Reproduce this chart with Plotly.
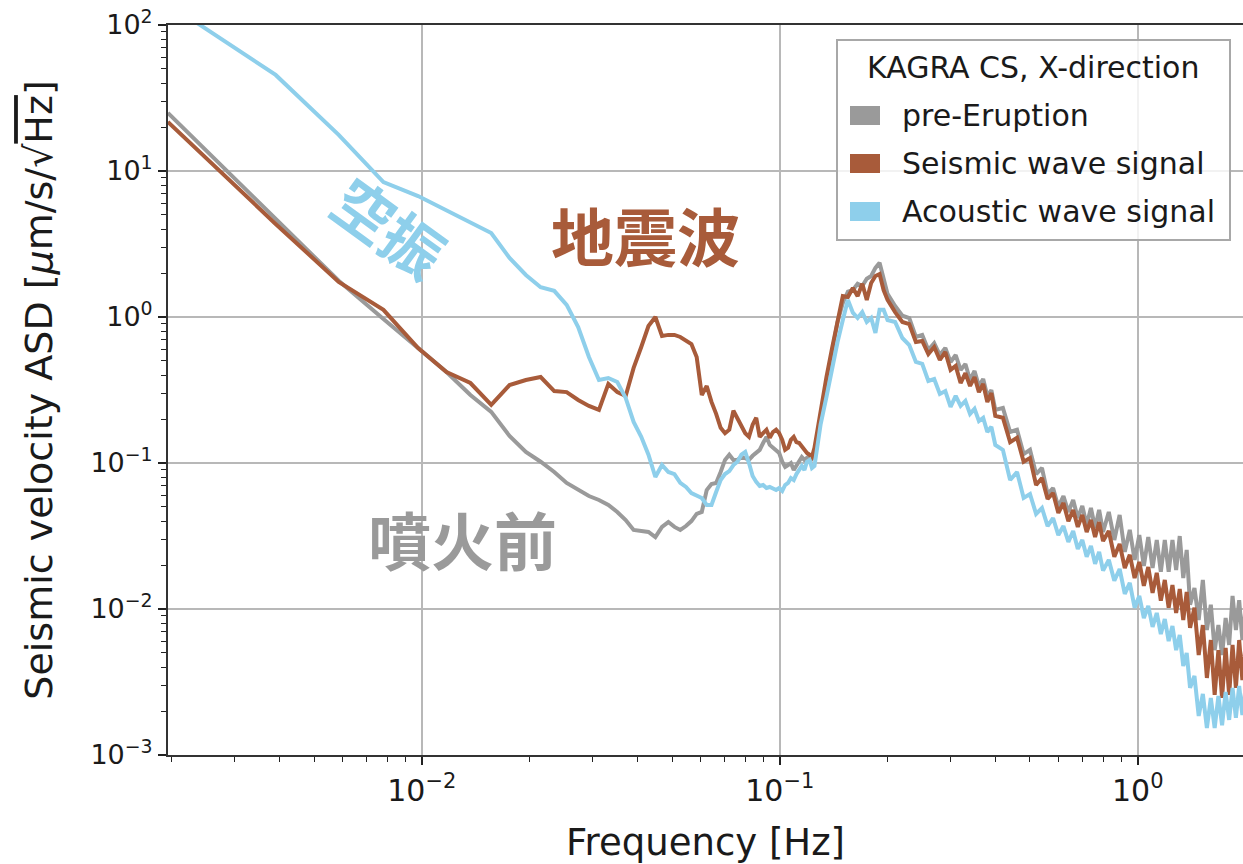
import plotly.graph_objects as go

# ---------------- data ----------------
FREQ = [
    0.001953, 0.003906, 0.005859, 0.007813, 0.009766, 0.01172, 0.01367, 0.01563, 0.01758, 0.01953,
    0.02148, 0.02344, 0.02539, 0.02734, 0.0293, 0.03125, 0.0332, 0.03516, 0.03711, 0.03906,
    0.04102, 0.04297, 0.04492, 0.04688, 0.04883, 0.05078, 0.05273, 0.05469, 0.05664, 0.05859,
    0.06055, 0.0625, 0.06445, 0.06641, 0.06836, 0.07031, 0.07227, 0.07422, 0.07617, 0.07813,
    0.08008, 0.08203, 0.08398, 0.08594, 0.08789, 0.08984, 0.0918, 0.09375, 0.0957, 0.09766,
    0.09961, 0.1016, 0.1035, 0.1055, 0.1074, 0.1094, 0.1113, 0.1133, 0.1152, 0.1172,
    0.1191, 0.1211, 0.123, 0.125,
    0.13, 0.135, 0.14, 0.145, 0.15, 0.155, 0.16, 0.165, 0.17, 0.175,
    0.18, 0.185, 0.19, 0.195, 0.2, 0.21, 0.22, 0.23, 0.24, 0.25,
    0.26, 0.27, 0.28, 0.29, 0.3, 0.31, 0.32, 0.33, 0.34, 0.35,
    0.36, 0.37, 0.38, 0.39, 0.4, 0.42, 0.44, 0.46, 0.48, 0.5,
    0.52, 0.54, 0.56, 0.58, 0.6, 0.62, 0.64, 0.66, 0.68, 0.7,
    0.72, 0.74, 0.76, 0.78, 0.8, 0.83, 0.86, 0.89, 0.92, 0.95,
    0.98, 1.01, 1.04, 1.07, 1.1, 1.13, 1.16, 1.19, 1.22, 1.25,
    1.28, 1.31, 1.34, 1.37, 1.4, 1.44, 1.48, 1.52, 1.56, 1.6,
    1.64, 1.68, 1.72, 1.76, 1.8, 1.84, 1.88, 1.92, 1.96, 2.0,
]

PRE_ERUPTION = [
    25.0, 4.69, 1.77, 0.969, 0.613, 0.420, 0.292, 0.224, 0.153, 0.119,
    0.102, 0.0868, 0.073, 0.0653, 0.0594, 0.0558, 0.0516, 0.0462, 0.0407, 0.0348,
    0.0342, 0.0337, 0.0311, 0.0365, 0.0394, 0.0365, 0.0348, 0.0370, 0.0400, 0.0448,
    0.0462, 0.0653, 0.0718, 0.073, 0.0868, 0.105, 0.114, 0.105, 0.105, 0.110,
    0.108, 0.105, 0.112, 0.117, 0.123, 0.137, 0.151, 0.133, 0.127, 0.123,
    0.117, 0.102, 0.0939, 0.0969, 0.1, 0.0895, 0.0969, 0.105, 0.110, 0.105,
    0.108, 0.112, 0.107, 0.114,
    0.197, 0.359, 0.576, 0.924, 1.25, 1.49, 1.53, 1.69, 1.63, 1.83,
    1.91, 2.17, 2.35, 1.80, 1.44, 1.19, 1.02, 0.984, 0.730, 0.754,
    0.594, 0.663, 0.549, 0.613, 0.492, 0.549, 0.434, 0.477, 0.370, 0.427,
    0.337, 0.376, 0.288, 0.316, 0.231, 0.238, 0.163, 0.169, 0.115, 0.123,
    0.084, 0.0924, 0.0613, 0.0674, 0.050, 0.0594, 0.0462, 0.0558, 0.042, 0.0508,
    0.0376, 0.0492, 0.0359, 0.0477, 0.0337, 0.0462, 0.0297, 0.0441, 0.0246, 0.0348,
    0.0217, 0.0321, 0.0197, 0.0311, 0.0191, 0.0297, 0.0180, 0.0297, 0.0180, 0.0297,
    0.0185, 0.0316, 0.0163, 0.0254, 0.0107, 0.0139, 0.0084, 0.0158, 0.00718, 0.0107,
    0.00523, 0.00776, 0.00484, 0.00868, 0.00567, 0.0123, 0.00718, 0.0115, 0.00613, 0.0102,
]

SEISMIC_WAVE = [
    21.7, 4.34, 1.74, 1.12, 0.613, 0.420, 0.353, 0.250, 0.342, 0.370,
    0.388, 0.311, 0.306, 0.270, 0.246, 0.231, 0.348, 0.306, 0.288, 0.448,
    0.623, 0.868, 1.0, 0.742, 0.754, 0.754, 0.730, 0.685, 0.653, 0.532,
    0.292, 0.337, 0.262, 0.217, 0.174, 0.160, 0.169, 0.228, 0.204, 0.183,
    0.160, 0.151, 0.183, 0.204, 0.151, 0.160, 0.169, 0.149, 0.163, 0.169,
    0.160, 0.144, 0.123, 0.127, 0.144, 0.151, 0.139, 0.137, 0.129, 0.123,
    0.117, 0.114, 0.110, 0.127,
    0.231, 0.388, 0.613, 0.954, 1.39, 1.37, 1.58, 1.39, 1.69, 1.31,
    1.71, 1.91, 1.97, 1.53, 1.31, 1.08, 0.924, 0.895, 0.674, 0.685,
    0.558, 0.623, 0.508, 0.576, 0.434, 0.462, 0.353, 0.413, 0.337, 0.388,
    0.306, 0.348, 0.262, 0.301, 0.210, 0.204, 0.139, 0.149, 0.102, 0.108,
    0.0707, 0.0789, 0.0567, 0.0623, 0.0455, 0.0532, 0.0400, 0.0477, 0.0365, 0.0441,
    0.0337, 0.0407, 0.0311, 0.0394, 0.0292, 0.0342, 0.0228, 0.0279, 0.0191, 0.0235,
    0.0163, 0.0210, 0.0144, 0.0194, 0.0129, 0.0177, 0.0114, 0.0158, 0.0102, 0.0146,
    0.00939, 0.0137, 0.0084, 0.0131, 0.00742, 0.0102, 0.00484, 0.00776, 0.00337, 0.00613,
    0.00258, 0.00523, 0.00246, 0.00541, 0.00258, 0.00567, 0.00288, 0.00613, 0.00326, 0.00567,
]

ACOUSTIC_WAVE = [
    140, 45.5, 17.7, 8.40, 6.74, 5.41, 4.48, 3.76, 2.54, 1.94,
    1.60, 1.51, 1.21, 0.854, 0.532, 0.370, 0.382, 0.359, 0.279, 0.191,
    0.151, 0.114, 0.0802, 0.0969, 0.0868, 0.084, 0.073, 0.0685, 0.0623, 0.0594,
    0.0576, 0.0516, 0.0516, 0.0633, 0.0765, 0.084, 0.0881, 0.0969, 0.102, 0.114,
    0.119, 0.1, 0.0815, 0.0742, 0.0696, 0.0707, 0.0674, 0.0685, 0.0674, 0.0653,
    0.0674, 0.0643, 0.0707, 0.073, 0.0789, 0.0765, 0.084, 0.0895, 0.0954, 0.0895,
    0.102, 0.105, 0.0924, 0.0954,
    0.183, 0.283, 0.448, 0.674, 0.954, 1.31, 1.07, 0.984, 1.08, 0.924,
    0.984, 0.777, 1.12, 1.12, 0.954, 0.924, 0.718, 0.643, 0.492, 0.477,
    0.365, 0.376, 0.297, 0.311, 0.242, 0.288, 0.246, 0.266, 0.217, 0.235,
    0.194, 0.204, 0.163, 0.177, 0.133, 0.123, 0.0765, 0.0868, 0.0576, 0.0613,
    0.0448, 0.0492, 0.037, 0.042, 0.0321, 0.037, 0.0288, 0.0342, 0.0258, 0.0297,
    0.0228, 0.027, 0.0204, 0.0246, 0.0183, 0.0217, 0.0156, 0.0188, 0.0127, 0.0151,
    0.0102, 0.0123, 0.00868, 0.0105, 0.00754, 0.00939, 0.00674, 0.00854, 0.00603, 0.00765,
    0.00523, 0.00663, 0.00407, 0.005, 0.00288, 0.00348, 0.00185, 0.00262, 0.00153, 0.00246,
    0.00153, 0.00254, 0.0016, 0.0027, 0.00174, 0.00288, 0.0018, 0.00297, 0.00188, 0.00288,
]

SERIES_NAMES = ["pre-Eruption", "Seismic wave signal", "Acoustic wave signal"]
LEGEND_TITLE = "KAGRA CS, X-direction"
X_TICK_VALUES = [0.01, 0.1, 1]
X_TICK_LABELS = ["10<sup>−2</sup>", "10<sup>−1</sup>", "10<sup>0</sup>"]
Y_TICK_VALUES = [1e-3, 1e-2, 1e-1, 1, 10, 100]
Y_TICK_LABELS = ["10<sup>−3</sup>", "10<sup>−2</sup>", "10<sup>−1</sup>",
                 "10<sup>0</sup>", "10<sup>1</sup>", "10<sup>2</sup>"]
LABELS_JA = ["噴火前", "地震波", "空振"]

# ---------------- styling ----------------
COLORS = ["#9a9a9a", "#a85b3a", "#8ecfeb"]
INK = "#1a1a1a"
GRID = "#b8b8b8"


# plot area in pixels: x 168..1243, y 25..755  -> paper fractions
def px(xpix):
    return (xpix - 168) / 1075.0


def py(ypix):
    return (755 - ypix) / 730.0


minor_x = [m * 10.0 ** e for e in (-3, -2, -1, 0) for m in range(2, 10) if m * 10.0 ** e <= 2.0]
minor_y = [m * 10.0 ** e for e in (-3, -2, -1, 0, 1) for m in range(2, 10)]

fig = go.Figure()
for name, vals, col in zip(SERIES_NAMES, [PRE_ERUPTION, SEISMIC_WAVE, ACOUSTIC_WAVE], COLORS):
    fig.add_trace(go.Scatter(x=FREQ, y=vals, mode="lines", name=name,
                             line=dict(color=col, width=4), showlegend=False,
                             legendgroup=name, hoverinfo="skip"))
# legend entries (their keys are drawn as rectangular patches below)
for name, col in zip(SERIES_NAMES, COLORS):
    fig.add_trace(go.Scatter(x=[None], y=[None], mode="lines", name=name,
                             line=dict(color=col, width=0), legendgroup=name,
                             showlegend=True, hoverinfo="skip"))

axis_common = dict(
    type="log", showgrid=True, gridcolor=GRID, gridwidth=1.5, zeroline=False,
    ticks="outside", ticklen=8, tickwidth=1.5, tickcolor="#222",
    showline=True, linecolor="#333", linewidth=2,
)

# legend frame and colour patches (matplotlib-style rectangular handles)
shapes = [
    dict(type="rect", xref="paper", yref="paper", x0=px(837), x1=px(1230), y0=py(240), y1=py(40),
         fillcolor="rgba(255,255,255,0.82)", line=dict(color="#a8a8a8", width=2), layer="above"),
]
for i, col in enumerate(COLORS):
    top = 106 + 48 * i
    shapes.append(dict(type="rect", xref="paper", yref="paper", x0=px(850), x1=px(880),
                       y0=py(top + 19), y1=py(top), fillcolor=col, line=dict(width=0), layer="above"))

fig.update_layout(
    width=1243, height=864,
    margin=dict(l=168, r=0, t=25, b=109),
    paper_bgcolor="white", plot_bgcolor="white",
    font=dict(family="DejaVu Sans", color=INK),
    xaxis=dict(
        **axis_common, range=[-2.709, 0.294], mirror=True,
        tickmode="array", tickvals=X_TICK_VALUES, ticktext=X_TICK_LABELS,
        tickfont=dict(size=30, color=INK),
        minor=dict(tickmode="array", tickvals=minor_x, ticks="outside", ticklen=5,
                   tickwidth=1.2, tickcolor="#222", showgrid=False),
        title=dict(text="Frequency [Hz]", font=dict(size=37, color=INK), standoff=23),
    ),
    yaxis=dict(
        **axis_common, range=[-3, 2], mirror=False,
        tickmode="array", tickvals=Y_TICK_VALUES, ticktext=Y_TICK_LABELS,
        tickfont=dict(size=27, color=INK),
        minor=dict(tickmode="array", tickvals=minor_y, ticks="outside", ticklen=5,
                   tickwidth=1.2, tickcolor="#222", showgrid=False),
        title=dict(text="Seismic velocity ASD [<i>μ</i>m/s/√<span style='text-decoration:overline'>Hz</span>]",
                   font=dict(size=38, color=INK), standoff=26),
    ),
    legend=dict(
        x=px(852), y=py(88), xanchor="left", yanchor="top",
        bgcolor="rgba(0,0,0,0)", borderwidth=0,
        font=dict(size=30, color=INK, family="DejaVu Sans"),
        tracegroupgap=6, itemwidth=40,
    ),
    shapes=shapes,
    annotations=[
        dict(x=px(1033), y=py(67), xref="paper", yref="paper", text=LEGEND_TITLE, showarrow=False,
             xanchor="center", yanchor="middle",
             font=dict(size=30, color=INK, family="DejaVu Sans")),
        dict(x=-1.885, y=-1.507, xref="x", yref="y", text=LABELS_JA[0], showarrow=False,
             xanchor="center", yanchor="middle",
             font=dict(size=63, color=COLORS[0], family="Noto Sans CJK JP", weight="bold")),
        dict(x=-1.374, y=0.575, xref="x", yref="y", text=LABELS_JA[1], showarrow=False,
             xanchor="center", yanchor="middle",
             font=dict(size=63, color=COLORS[1], family="Noto Sans CJK JP", weight="bold")),
        dict(x=-2.087, y=0.63, xref="x", yref="y", text=LABELS_JA[2], showarrow=False,
             xanchor="center", yanchor="middle", textangle=36,
             font=dict(size=60, color=COLORS[2], family="Noto Sans CJK JP", weight="bold")),
    ],
)

fig.write_html("out.html")
